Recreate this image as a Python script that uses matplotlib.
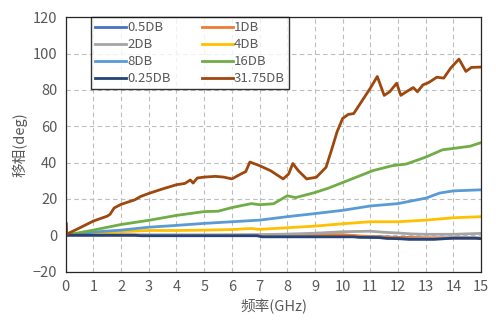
import matplotlib
matplotlib.use("Agg")
import matplotlib.pyplot as plt

plt.rcParams['font.family'] = ['Noto Sans CJK SC', 'DejaVu Sans']

# Phase shift (deg) versus frequency (GHz) for each attenuation state
f_025 = [0, 2.5, 2.7, 6.9, 7.1, 10.4, 10.6, 11.3, 11.6, 12.0, 12.4, 13.3, 14.0, 14.8, 15.0]
v_025 = [0, 0, -0.3, -0.3, -0.9, -0.9, -1.2, -1.3, -1.8, -1.9, -2.3, -2.3, -1.6, -1.6, -1.9]

f_05 = [0, 3, 6, 8, 10, 11, 12, 13, 14, 15]
v_05 = [0, 0, -0.1, -0.3, -0.4, -0.8, -1.2, -1.5, -1.6, -1.7]

f_1 = [0, 3, 6, 8, 9, 10, 10.5, 11, 12, 13, 14, 15]
v_1 = [0, 0, 0, 0.2, 0.4, 0.3, -0.3, -0.8, -1.3, -1.7, -1.5, -1.6]

f_2 = [0, 5, 7, 8, 9, 10, 11, 11.5, 12, 12.5, 13, 14, 15]
v_2 = [0, 0.1, 0.3, 0.6, 1.1, 1.9, 2.2, 1.6, 1.2, 0.7, 0.5, 0.5, 1.0]

f_4 = [0, 1, 2, 3, 4, 5, 6, 6.7, 7, 8, 9, 10, 11, 12, 13, 14, 15]
v_4 = [0, 0.8, 1.9, 2.6, 2.6, 2.8, 3.1, 3.7, 3.2, 4.1, 5.0, 6.3, 7.4, 7.4, 8.3, 9.6, 10.2]

f_8 = [0, 1, 2, 3, 4, 5, 6, 7, 8, 9, 10, 11, 12, 13, 13.5, 14, 15]
v_8 = [0, 1.7, 2.8, 4.4, 5.4, 6.5, 7.4, 8.3, 10.2, 11.9, 13.7, 16.1, 17.4, 20.4, 23.2, 24.4, 25.0]

f_16 = [0, 1, 2, 3, 4, 5, 5.5, 6, 6.7, 7.0, 7.5, 8.0, 8.3, 9.0, 9.5, 10.0, 11.1,
        11.8, 12.3, 13.0, 13.6, 14.6, 15.0]
v_16 = [0, 2.8, 5.9, 8.2, 10.9, 13.0, 13.2, 15.2, 17.4, 16.8, 17.3, 21.7, 20.7, 23.5,
        26.0, 29.0, 35.6, 38.3, 39.2, 43.0, 47.0, 49.0, 51.0]

f_3175 = [0, 0.01, 0.03, 0.5, 1.0, 1.5, 1.6, 1.75, 2.0, 2.5, 2.7, 3.0, 3.5, 4.0, 4.3, 4.5,
          4.6, 4.75, 5.0, 5.4, 5.7, 6.0, 6.3, 6.5, 6.65, 7.0, 7.4, 7.85, 8.05, 8.2, 8.4,
          8.7, 9.05, 9.4, 9.6, 9.8, 10.0, 10.2, 10.4, 10.7, 11.0, 11.25, 11.5, 11.7,
          11.95, 12.1, 12.3, 12.55, 12.7, 12.9, 13.1, 13.4, 13.65, 13.9, 14.2, 14.45,
          14.65, 15.0]
v_3175 = [0, 7, 0.5, 4, 7.8, 10.5, 11.5, 15, 17, 19.5, 21.3, 23, 25.5, 27.8, 28.5, 30.4,
          28.7, 31.5, 32, 32.4, 32, 31, 33.5, 35, 40.3, 38.3, 35.5, 31, 33.7, 39.5, 35.5,
          31, 31.9, 37.4, 47, 57, 64.3, 66.5, 67, 74, 81, 87.4, 77, 79,
          83.7, 77, 79, 81.3, 79, 82.8, 84, 87, 86.5, 92, 97, 90.2,
          92.4, 92.6]

series = [
    ("0.5DB", f_05, v_05, "#4472C4"),
    ("1DB", f_1, v_1, "#ED7D31"),
    ("2DB", f_2, v_2, "#A5A5A5"),
    ("4DB", f_4, v_4, "#FFC000"),
    ("8DB", f_8, v_8, "#5B9BD5"),
    ("16DB", f_16, v_16, "#70AD47"),
    ("0.25DB", f_025, v_025, "#264478"),
    ("31.75DB", f_3175, v_3175, "#9E480E"),
]

x_ticks = list(range(0, 16))
y_ticks = list(range(-20, 121, 20))

fig = plt.figure(figsize=(4.96, 3.24), dpi=100)
ax = fig.add_axes([0.1325, 0.162, 0.8375, 0.7846])

lines = []
for name, fx, fy, c in series:
    ln, = ax.plot(fx, fy, color=c, lw=2.0, label=name, solid_joinstyle='round')
    lines.append(ln)

ax.set_xlim(0, 15)
ax.set_ylim(-20, 120)
ax.set_xticks(x_ticks)
ax.set_yticks(y_ticks)
ax.grid(True, color='#bdbdbd', lw=0.8, ls=(0, (4, 3)))
ax.set_axisbelow(True)
ax.tick_params(length=0, labelsize=10.5, labelcolor='#595959', pad=6)
for s in ax.spines.values():
    s.set_color('#262626')
    s.set_linewidth(0.9)

ax.set_xlabel("频率(GHz)", fontsize=10.5, color='#595959', labelpad=4)
ax.set_ylabel("移相(deg)", fontsize=10.5, color='#595959', labelpad=4)

# legend entries read row by row across two columns
order = lines[0::2] + lines[1::2]
leg = ax.legend(order, [l.get_label() for l in order], ncol=2, loc='upper left',
                bbox_to_anchor=(0.062, 1.0), borderaxespad=0,
                fontsize=9.5, handlelength=2.3, handletextpad=0.1, columnspacing=2.4,
                labelspacing=0.3, frameon=True, fancybox=False, borderpad=0.3)
leg.get_frame().set_edgecolor('#000000')
leg.get_frame().set_linewidth(1.0)
for t in leg.get_texts():
    t.set_color('#595959')

fig.savefig("out.png", dpi=100)
